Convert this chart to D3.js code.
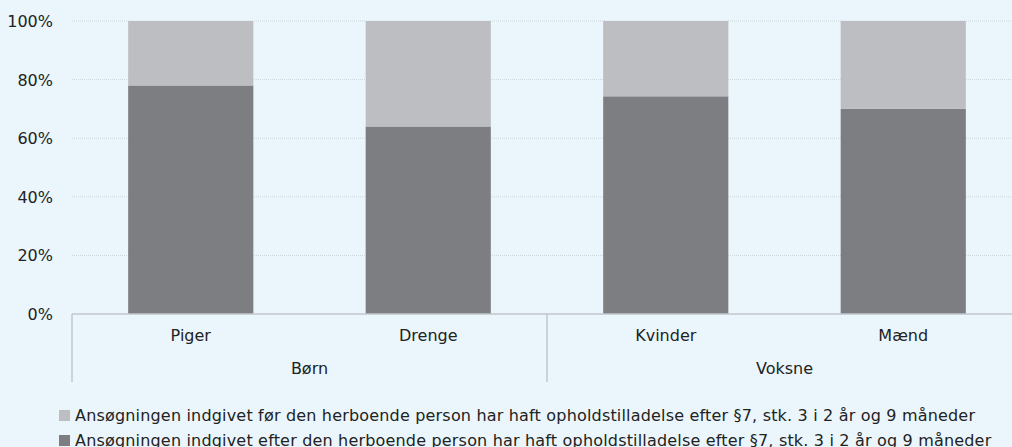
<!DOCTYPE html>
<html>
<head>
<meta charset="utf-8">
<script src="https://cdn.jsdelivr.net/npm/d3@7"></script>
<style>
  body { margin: 0; background: #eaf6fc; }
  svg { display: block; font-family: "DejaVu Sans", sans-serif; }
</style>
</head>
<body>
<script>
// data
var categories = ["Piger", "Drenge", "Kvinder", "Mænd"];
var groups = ["Børn", "Børn", "Voksne", "Voksne"];
var groupNames = ["Børn", "Voksne"];
var efter = [0.78, 0.64, 0.743, 0.70];   // dark, bottom
var foer = [0.22, 0.36, 0.257, 0.30];    // light, top
var yTicks = [0, 0.2, 0.4, 0.6, 0.8, 1];
var seriesNames = [
  "Ansøgningen indgivet før den herboende person har haft opholdstilladelse efter §7, stk. 3 i 2 år og 9 måneder",
  "Ansøgningen indgivet efter den herboende person har haft opholdstilladelse efter §7, stk. 3 i 2 år og 9 måneder"
];
var colors = ["#bdbec2", "#7d7e82"];

var w = 1012;
var h = 447;
var mLeft = 72, mTop = 21, mBottom = 314;
var fs = 16;

var svg = d3.select("body")
            .append("svg")
            .attr("width", w)
            .attr("height", h);

var x = d3.scaleBand()
          .domain(categories)
          .range([mLeft, mLeft + 4 * 237.5])
          .paddingInner(0.473)
          .paddingOuter(0.2365);

var y = d3.scaleLinear()
          .domain([0, 1])
          .range([mBottom, mTop]);

// gridlines
svg.selectAll("line.grid")
   .data(yTicks.filter(function(d){ return d > 0; }))
   .enter()
   .append("line")
   .attr("class", "grid")
   .attr("x1", mLeft)
   .attr("x2", w)
   .attr("y1", function(d){ return y(d); })
   .attr("y2", function(d){ return y(d); })
   .attr("stroke", "#cdd6dc")
   .attr("stroke-width", 1)
   .attr("stroke-dasharray", "1,1");

// y labels
svg.selectAll("text.ylab")
   .data(yTicks)
   .enter()
   .append("text")
   .attr("class", "ylab")
   .attr("x", 53)
   .attr("y", function(d){ return y(d) + 6; })
   .attr("text-anchor", "end")
   .attr("font-size", fs)
   .attr("fill", "#222")
   .text(function(d){ return d3.format(".0%")(d); });

// bars
var bars = categories.map(function(c, i){
  return {cat: c, efter: efter[i], foer: foer[i]};
});

svg.selectAll("rect.efter")
   .data(bars)
   .enter()
   .append("rect")
   .attr("x", function(d){ return x(d.cat); })
   .attr("width", x.bandwidth())
   .attr("y", function(d){ return y(d.efter); })
   .attr("height", function(d){ return y(0) - y(d.efter); })
   .attr("fill", colors[1]);

svg.selectAll("rect.foer")
   .data(bars)
   .enter()
   .append("rect")
   .attr("x", function(d){ return x(d.cat); })
   .attr("width", x.bandwidth())
   .attr("y", function(d){ return y(d.efter + d.foer); })
   .attr("height", function(d){ return y(d.efter) - y(d.efter + d.foer); })
   .attr("fill", colors[0]);

// category axis
var axisColor = "#c2c6cb";
svg.append("line")
   .attr("x1", mLeft).attr("x2", w)
   .attr("y1", mBottom).attr("y2", mBottom)
   .attr("stroke", axisColor).attr("stroke-width", 1.5);

var step = x.step();
var seps = [mLeft, mLeft + 2 * step];
svg.selectAll("line.sep")
   .data(seps)
   .enter()
   .append("line")
   .attr("x1", function(d){ return d; })
   .attr("x2", function(d){ return d; })
   .attr("y1", mBottom)
   .attr("y2", 382)
   .attr("stroke", axisColor)
   .attr("stroke-width", 1.5);

svg.selectAll("text.cat")
   .data(categories)
   .enter()
   .append("text")
   .attr("x", function(d){ return x(d) + x.bandwidth() / 2; })
   .attr("y", 341)
   .attr("text-anchor", "middle")
   .attr("font-size", fs)
   .attr("fill", "#222")
   .text(function(d){ return d; });

svg.selectAll("text.grp")
   .data(groupNames)
   .enter()
   .append("text")
   .attr("x", function(d){
     var idx = groups.map(function(g, i){ return g === d ? i : -1; }).filter(function(i){ return i >= 0; });
     return (x(categories[idx[0]]) + x(categories[idx[idx.length - 1]]) + x.bandwidth()) / 2;
   })
   .attr("y", 374)
   .attr("text-anchor", "middle")
   .attr("font-size", fs)
   .attr("fill", "#222")
   .text(function(d){ return d; });

// legend
var legend = svg.selectAll("g.leg")
   .data(seriesNames)
   .enter()
   .append("g")
   .attr("transform", function(d, i){ return "translate(59," + (410 + i * 25) + ")"; });

legend.append("rect")
   .attr("width", 11)
   .attr("height", 11)
   .attr("fill", function(d, i){ return colors[i]; });

legend.append("text")
   .attr("x", 16)
   .attr("y", 11)
   .attr("font-size", fs)
   .attr("letter-spacing", 0.18)
   .attr("fill", "#222")
   .text(function(d){ return d; });
</script>
</body>
</html>
